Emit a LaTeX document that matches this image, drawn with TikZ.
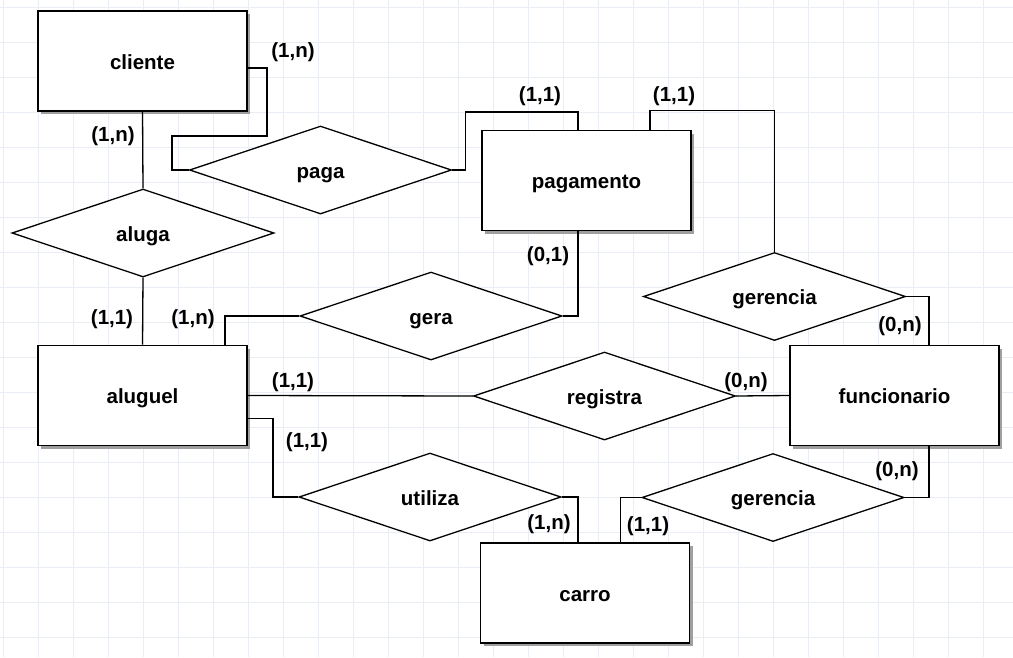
\documentclass[tikz,border=0pt]{standalone}
\usepackage{fontspec}
\setmainfont{Liberation Sans}
\usetikzlibrary{shapes.geometric,shadows}

\definecolor{corgrade}{RGB}{232,238,243}

\tikzset{
  entidade/.style={rectangle, draw, line width=1.7pt, fill=white,
    minimum width=209pt, minimum height=100pt, inner sep=0pt,
    text height=16pt, text depth=0pt,
    drop shadow={shadow xshift=3pt, shadow yshift=-3pt, fill=gray!75, opacity=1}},
  relacao/.style={diamond, draw, line width=1.3pt, fill=white, shape aspect=2.98,
    minimum width=262pt, minimum height=88pt, inner sep=0pt,
    text height=16pt, text depth=0pt},
  card/.style={inner sep=0pt},
  liga/.style={line width=1.3pt},
  grade/.style={draw=corgrade, line width=1pt}
}

\begin{document}
\begin{tikzpicture}[x=1pt, y=-1pt, font=\fontsize{20.5}{24}\selectfont\bfseries]
  \useasboundingbox (0,0) rectangle (1013,657);
  \fill[white] (0,0) rectangle (1013,657);
  % grade de fundo
  \foreach \gx in {3,38,...,1013} \draw[grade] (\gx,0) -- (\gx,657);
  \foreach \gy in {7,42,...,657} \draw[grade] (0,\gy) -- (1013,\gy);

  % entidades
  \node[entidade] (cliente) at (142.5,61) {cliente};
  \node[entidade] (pagamento) at (586.5,180.5) {pagamento};
  \node[entidade] (aluguel) at (142.5,395.5) {aluguel};
  \node[entidade] (funcionario) at (894.5,395.5) {funcionario};
  \node[entidade] (carro) at (585,593) {carro};

  % relacionamentos
  \node[relacao] (paga) at (320.5,170) {paga};
  \node[relacao] (aluga) at (143,233) {aluga};
  \node[relacao] (gera) at (431,316) {gera};
  \node[relacao] (gerenciaP) at (774.5,296.5) {gerencia};
  \node[relacao] (registra) at (604.5,396) {registra};
  \node[relacao] (utiliza) at (430,497) {utiliza};
  \node[relacao] (gerenciaC) at (773,497.5) {gerencia};

  % ligacoes
  \draw[liga] (cliente.south) -- (aluga.north);
  \draw[liga] ([yshift=-7pt]cliente.east) -- ++(19,0) -- ++(0,68)
     -| ([xshift=-17pt]paga.west) -- (paga.west);
  \draw[liga] (paga.east) -- ++(13,0) -- ++(0,-58) -| ([xshift=-8.5pt]pagamento.north);
  \draw[liga] ([xshift=63.5pt]pagamento.north) -- ++(0,-19) -| (gerenciaP.north);
  \draw[liga] (gerenciaP.east) -| ([xshift=34.5pt]funcionario.north);
  \draw[liga] ([xshift=-8.5pt]pagamento.south) |- (gera.east);
  \draw[liga] (aluga.south) -- (aluguel.north);
  \draw[liga] ([xshift=82.5pt]aluguel.north) |- (gera.west);
  \draw[liga] (aluguel.east) -- (registra.west);
  \draw[liga] (registra.east) -- (funcionario.west);
  \draw[liga] ([yshift=-23pt]aluguel.east) -- ++(25,0) |- (utiliza.west);
  \draw[liga] (utiliza.east) -| ([xshift=-7pt]carro.north);
  \draw[liga] ([xshift=35.5pt]carro.north) |- (gerenciaC.west);
  \draw[liga] (gerenciaC.east) -| ([xshift=34.5pt]funcionario.south);

  % cardinalidades
  \node[card] (cClientePaga) at (293,52) {(1,n)};
  \node[card] (cClienteAluga) at (113,136) {(1,n)};
  \node[card] (cPagamentoPaga) at (540,96) {(1,1)};
  \node[card] (cPagamentoGer) at (674,96) {(1,1)};
  \node[card] (cPagamentoGera) at (548,256) {(0,1)};
  \node[card] (cFuncGerP) at (900,326) {(0,n)};
  \node[card] (cAluguelAluga) at (112,319) {(1,1)};
  \node[card] (cAluguelGera) at (193,319) {(1,n)};
  \node[card] (cAluguelReg) at (293,382) {(1,1)};
  \node[card] (cAluguelUtil) at (307,442) {(1,1)};
  \node[card] (cFuncReg) at (746,382) {(0,n)};
  \node[card] (cFuncGerC) at (897,471) {(0,n)};
  \node[card] (cCarroUtil) at (549,524) {(1,n)};
  \node[card] (cCarroGer) at (648,526) {(1,1)};
\end{tikzpicture}
\end{document}
